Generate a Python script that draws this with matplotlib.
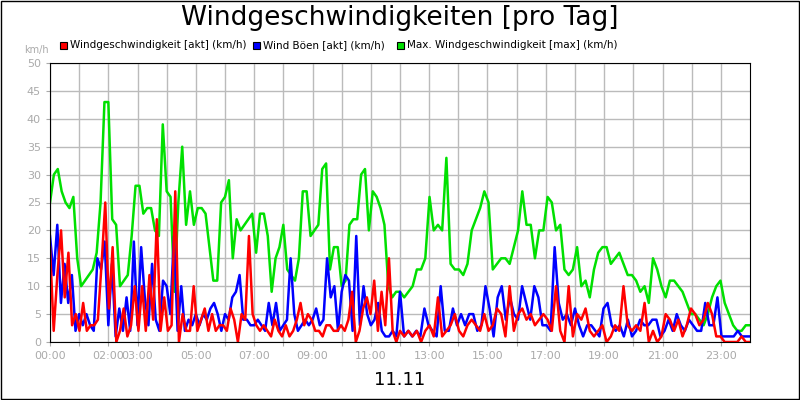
import numpy as np
import matplotlib.pyplot as plt
from matplotlib.patches import Rectangle

# Messwerte (km/h), je Tageshaelfte gleichmaessig verteilt (vm = 00-12 Uhr, nm = 12-24 Uhr)
wind_akt_vm = [17, 2, 12, 20, 8, 16, 3, 5, 2, 7, 2, 3, 3, 4, 14, 25, 6, 17, 0, 2, 6, 1, 3, 10, 2, 10, 2, 12, 4, 22,
               2, 8, 2, 3, 27, 0, 5, 2, 2, 10, 2, 4, 6, 2, 5, 2, 3, 3, 2, 6, 4, 0, 5, 4, 19, 5, 3, 2, 3, 2,
               1, 4, 2, 1, 3, 1, 2, 4, 7, 3, 5, 4, 2, 2, 1, 3, 3, 2, 2, 3, 2, 4, 9, 0, 2, 6, 8, 5, 11, 2,
               9, 3, 15, 2, 0]
wind_akt_nm = [2, 1, 2, 1, 2, 0, 2, 3, 1, 8, 1, 2, 3, 5, 2, 1, 3, 4, 3, 2, 5, 2, 3, 6, 5, 1, 10, 2, 5, 6,
               4, 5, 3, 4, 5, 4, 2, 10, 2, 0, 10, 1, 5, 4, 6, 2, 1, 2, 3, 0, 1, 3, 2, 10, 3, 2, 3, 2, 7, 0,
               2, 0, 1, 5, 4, 2, 4, 1, 3, 6, 5, 3, 4, 7, 5, 1, 1, 0, 0, 0, 0, 1, 0, 0]
wind_boeen_vm = [19, 12, 21, 7, 14, 7, 12, 2, 5, 3, 5, 3, 2, 15, 13, 18, 3, 14, 1, 6, 2, 8, 2, 18, 3, 17, 8, 3, 14, 4,
                 2, 11, 10, 5, 19, 2, 10, 2, 4, 3, 5, 3, 5, 4, 6, 7, 5, 2, 5, 4, 8, 9, 12, 4, 4, 3, 3, 4, 3, 2,
                 7, 3, 7, 2, 3, 4, 15, 5, 2, 3, 4, 3, 4, 6, 3, 4, 15, 8, 10, 2, 9, 12, 11, 2, 19, 3, 10, 5, 3, 4,
                 7, 2, 1, 1, 2, 1]
wind_boeen_nm = [9, 1, 2, 1, 2, 1, 6, 3, 2, 1, 10, 2, 2, 6, 3, 5, 3, 5, 5, 2, 3, 10, 6, 1, 8, 10, 4, 8, 5, 4,
                 10, 7, 4, 10, 8, 3, 3, 2, 17, 7, 4, 5, 3, 6, 3, 1, 3, 3, 2, 1, 6, 7, 3, 2, 3, 1, 4, 1, 2, 4,
                 3, 3, 4, 4, 1, 2, 4, 2, 5, 3, 2, 4, 3, 2, 2, 7, 3, 3, 8, 1, 1, 1, 1, 2, 1, 1, 1]
wind_max_vm = [25, 30, 31, 27, 25, 24, 26, 15, 10, 11, 12, 13, 16, 25, 43, 43, 22, 21, 10, 11, 12, 19, 28, 28, 23, 24,
               24, 20, 19, 39, 27, 26, 9, 25, 35, 21, 27, 21, 24, 24, 23, 17, 11, 11, 25, 26, 29, 15, 22, 20, 21, 22,
               23, 16, 23, 23, 19, 9, 15, 17, 21, 13, 12, 11, 15, 27, 27, 19, 20, 21, 31, 32, 13, 17, 17, 10, 11, 21,
               22, 22, 30, 31, 20, 27, 26, 24, 21, 10, 8, 9]
wind_max_nm = [9, 8, 9, 10, 13, 13, 15, 26, 20, 21, 20, 33, 14, 13, 13, 12, 14, 20, 22, 24, 27, 25, 13, 14, 15, 15,
               14, 17, 20, 27, 21, 21, 15, 20, 20, 26, 25, 20, 21, 13, 12, 13, 17, 10, 11, 8, 13, 16, 17, 17, 14, 15,
               16, 14, 12, 12, 11, 9, 10, 7, 15, 13, 10, 8, 11, 11, 10, 9, 7, 5, 5, 4, 3, 5, 8, 10, 11, 7, 5, 3,
               2, 2, 3, 3]
hour_labels = ["00:00", "", "02:00", "03:00", "", "05:00", "", "07:00", "", "09:00", "", "11:00", "",
               "13:00", "", "15:00", "", "17:00", "", "19:00", "", "21:00", "", "23:00"]


def day(vm, nm):
    x = np.concatenate([np.linspace(0, 12, len(vm), endpoint=False), np.linspace(12, 24, len(nm))])
    return x, vm + nm


fig = plt.figure(figsize=(8, 4), dpi=100)
fig.patches.append(Rectangle((0.001, 0.002), 0.998, 0.996, transform=fig.transFigure,
                             fill=False, edgecolor="black", lw=1))
ax = fig.add_axes([50 / 800, 58 / 400, 700 / 800, 279 / 400])

for vm, nm, col in [(wind_max_vm, wind_max_nm, "#00e000"), (wind_boeen_vm, wind_boeen_nm, "#0000ff"),
                    (wind_akt_vm, wind_akt_nm, "#ff0000")]:
    x, y = day(vm, nm)
    ax.plot(x, y, color=col, lw=1.8)

ax.set_xlim(0, 24)
ax.set_ylim(0, 50)
ax.set_xticks(range(24))
ax.set_xticklabels(hour_labels)
ax.set_yticks(range(0, 51, 5))
ax.tick_params(colors="#aaaaaa", labelsize=8, length=3)
ax.grid(color="#bbbbbb", lw=1)
for s in ax.spines.values():
    s.set_color("black")

fig.text(0.5, 0.955, "Windgeschwindigkeiten [pro Tag]", ha="center", va="center", fontsize=19)
fig.text(0.5, 0.05, "11.11", ha="center", va="center", fontsize=13)
fig.text(0.03, 0.875, "km/h", color="#aaaaaa", fontsize=7, va="center")

legend = [(60, "Windgeschwindigkeit [akt] (km/h)", "#ff0000"),
          (253, "Wind Böen [akt] (km/h)", "#0000ff"),
          (397, "Max. Windgeschwindigkeit [max] (km/h)", "#00e000")]
for x, txt, col in legend:
    fig.patches.append(Rectangle((x / 800, 0.878), 7 / 800, 7 / 400, transform=fig.transFigure,
                                 facecolor=col, edgecolor="black", lw=0.8))
    fig.text((x + 10) / 800, 0.888, txt, fontsize=7.5, va="center")

fig.savefig("out.png")
